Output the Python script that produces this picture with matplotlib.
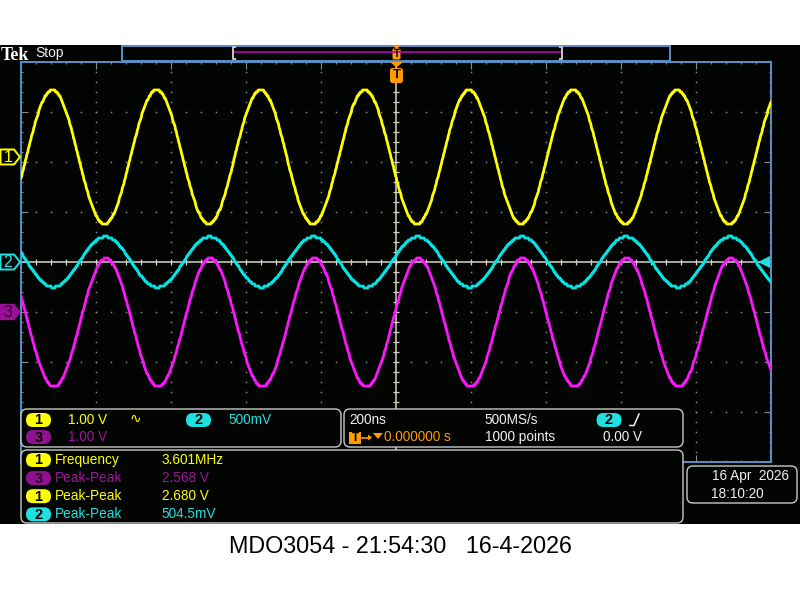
import numpy as np
import matplotlib
matplotlib.use('Agg')
import matplotlib.pyplot as plt
from matplotlib.patches import Rectangle, FancyBboxPatch, Polygon

channels = ['1', '2', '3']
ch_colors = ['#ffff00', '#00e6e6', '#ff14ff']
vpp = [2.680, 0.5045, 2.568]            # measured peak-to-peak, V
volts_per_div = [1.00, 0.50, 1.00]
position_div = [2.1, 0.0, -1.0]          # channel ground marker position
dc_offset = [0.0, 0.0, -0.21]            # V
peak_time_ns = [-83.0, 58.0, 60.0]       # time of a positive peak
frequency_mhz = 3.601
time_per_div_ns = 200
n_points = 1000
trigger_level_v = 0.0

meas_channels = ['1', '3', '1', '2']
meas_labels = ['Frequency', 'Peak-Peak', 'Peak-Peak', 'Peak-Peak']
meas_values = ['3.601MHz', '2.568 V', '2.680 V', '504.5mV']

# ---------------- figure ----------------
W, H = 800, 600
fig = plt.figure(figsize=(8, 6), dpi=100, facecolor='white')
FAM = ['Liberation Sans', 'DejaVu Sans']
YEL, CYA, MAG, PUR, ORA, WHT = '#ffff00', '#1ee0e0', '#ff14ff', '#a412a4', '#ff9a00', '#f0f0f0'
BLUE = '#5b8fc8'
GRAY = '#8a8a8a'
CENTER = '#d4d4c4'

# background axes (pixel coords)
bg = fig.add_axes([0, 0, 1, 1], zorder=0)
bg.set_xlim(0, W); bg.set_ylim(H, 0); bg.axis('off')
bg.add_patch(Rectangle((0, 45), W, 479, facecolor='#020402', edgecolor='none'))

# scope graticule axes
L, T, R, B = 21, 62, 771, 462
ax = fig.add_axes([L / W, 1 - B / H, (R - L) / W, (B - T) / H], zorder=1)
ax.set_facecolor('none')
half = 5 * time_per_div_ns
ax.set_xlim(-half, half)
ax.set_ylim(-4, 4)
for s in ax.spines.values():
    s.set_color(BLUE); s.set_linewidth(1.4)
ax.set_xticks(np.arange(-half, half + 1, time_per_div_ns))
ax.set_xticks(np.arange(-half, half + 1, time_per_div_ns / 5), minor=True)
ax.set_yticks(np.arange(-4, 5, 1))
ax.set_yticks(np.arange(-4, 4.01, 0.2), minor=True)
ax.tick_params(which='both', direction='in', color=GRAY, labelleft=False,
               labelbottom=False, top=True, right=True, width=0.8)
ax.tick_params(which='major', length=5)
ax.tick_params(which='minor', length=1.5)

# dotted grid
xs_major = np.arange(-half + time_per_div_ns, half, time_per_div_ns)
ys_major = np.arange(-3, 4, 1)
ydots = np.arange(-4, 4.001, 0.2)
xdots = np.arange(-half, half + 0.1, time_per_div_ns / 5)
for xm in xs_major:
    if xm != 0:
        ax.plot(np.full_like(ydots, xm), ydots, ls='none', marker='s', ms=1.1,
                mew=0, color=GRAY)
for ym in ys_major:
    if ym != 0:
        ax.plot(xdots, np.full_like(xdots, ym), ls='none', marker='s', ms=1.1,
                mew=0, color=GRAY)
# center cross with ticks
ax.axhline(0, color=CENTER, lw=1.1)
ax.axvline(0, color=CENTER, lw=1.1)
ax.plot(xdots, np.zeros_like(xdots), ls='none', marker='|', ms=4.5, mew=0.9, color=CENTER)
ax.plot(np.zeros_like(ydots), ydots, ls='none', marker='_', ms=4.5, mew=0.9, color=CENTER)

# waveforms
t = np.linspace(-half, half, n_points)
f_per_ns = frequency_mhz * 1e-3
for i in range(3):
    v = dc_offset[i] + vpp[i] / 2 * np.cos(2 * np.pi * f_per_ns * (t - peak_time_ns[i]))
    ydiv = position_div[i] + v / volts_per_div[i]
    ydiv = np.round(ydiv * 25) / 25
    ax.plot(t, ydiv, color=ch_colors[i], lw=2.0, solid_joinstyle='round', zorder=5)

# trigger level marker (right)
trig_y = position_div[1] + trigger_level_v / volts_per_div[1]
px_ns = 2 * half / (R - L)
ax.plot([half - 7 * px_ns], [trig_y], marker='<', ms=8.5, color=CYA, mew=0,
        clip_on=False, zorder=6)

# ---------------- overlay (pixel coords) ----------------
ov = fig.add_axes([0, 0, 1, 1], zorder=3)
ov.set_facecolor('none')
ov.set_xlim(0, W); ov.set_ylim(H, 0); ov.axis('off')


def txt(x, y, s, c=WHT, fs=9.8, **kw):
    kw.setdefault('family', FAM)
    ov.text(x, y, s, color=c, fontsize=fs, va='center', ha=kw.pop('ha', 'left'), **kw)


def panel(x0, y0, x1, y1, r=6):
    ov.add_patch(FancyBboxPatch((x0, y0), x1 - x0, y1 - y0,
                                boxstyle=f'round,pad=0,rounding_size={r}',
                                facecolor='#020402', edgecolor='#c8c8c8', lw=1.0))


def badge(cx, cy, s, fc, tc='black'):
    ov.add_patch(FancyBboxPatch((cx - 12.5, cy - 7), 25, 14,
                                boxstyle='round,pad=0,rounding_size=7',
                                facecolor=fc, edgecolor='none'))
    ov.text(cx, cy + 0.5, s, color=tc, fontsize=10.5, weight='bold', family=FAM,
            ha='center', va='center')


# top status
ov.text(0.5, 59.5, 'Tek', color='white', fontsize=13, weight='bold',
        family=['Liberation Serif', 'DejaVu Serif'], va='baseline', ha='left')
txt(35, 52.5, 'Stop', fs=10)

# record bar
ov.add_patch(Rectangle((122, 45.5), 548, 15, facecolor='none', edgecolor=BLUE, lw=1.4))
ov.plot([233, 561], [52.3, 52.3], color='#c000c0', lw=1.2)
for bx, d in [(232.5, 1), (561.5, -1)]:
    ov.plot([bx + 2 * d, bx, bx, bx + 2 * d], [47, 47, 59, 59], color='#c8c8c8', lw=1.4)
# trigger position markers
ov.add_patch(Polygon([(392.5, 45.5), (400.5, 45.5), (396.5, 49)], closed=True, fc=ORA, ec='none'))
ov.add_patch(FancyBboxPatch((392.5, 48.5), 8, 11, boxstyle='round,pad=0,rounding_size=1.5',
                            fc=ORA, ec='none'))
ov.text(396.5, 54.2, 'T', color='black', fontsize=7, weight='bold', family=FAM,
        ha='center', va='center')
ov.add_patch(Polygon([(390, 62), (403, 62), (396.5, 67.5)], closed=True, fc=ORA, ec='none'))
ov.add_patch(FancyBboxPatch((390, 68), 13, 15, boxstyle='round,pad=0,rounding_size=2.5',
                            fc=ORA, ec='none'))
ov.text(396.5, 75.5, 'T', color='black', fontsize=9.5, weight='bold', family=FAM,
        ha='center', va='center')

# left channel markers
for i, (ch, pos) in enumerate(zip(channels, position_div)):
    cy = 262 - pos * 50
    pts = [(0.5, cy - 7.5), (14, cy - 7.5), (20, cy), (14, cy + 7.5), (0.5, cy + 7.5)]
    if ch == '3':
        ov.add_patch(Polygon(pts, closed=True, fc='#9a0f9a', ec='#9a0f9a', lw=1))
        ov.text(8, cy + 0.5, ch, color='#2a002a', fontsize=11.5, family=FAM,
                ha='center', va='center')
    else:
        col = YEL if ch == '1' else CYA
        ov.add_patch(Polygon(pts, closed=True, fc='#020402', ec=col, lw=1.4))
        ov.text(8, cy + 0.5, ch, color=col, fontsize=11.5, family=FAM,
                ha='center', va='center')

# panels
panel(21, 409, 341, 447)
panel(344, 409, 683, 447)
panel(21, 450, 683, 523)
panel(687, 466, 797, 503)

# channel settings
badge(38.5, 420, '1', YEL)
txt(68, 420, f'{volts_per_div[0]:.2f} V', YEL)
txt(130, 419, '∿', YEL, fs=10, family=['DejaVu Sans'])
badge(198.5, 420, '2', CYA)
txt(228, 420, f'{volts_per_div[1] * 1000:.0f}mV', CYA)
badge(38.5, 437, '3', '#8e128e')
txt(68, 437, f'{volts_per_div[2]:.2f} V', PUR)

# timebase
txt(349, 420, f'{time_per_div_ns}ns')
txt(484.5, 420, '500MS/s')
badge(609, 420, '2', CYA)
ov.plot([630, 634, 639], [425.5, 425.5, 414], color=WHT, lw=1.1)
ov.add_patch(Rectangle((349, 432), 12, 11.5, fc=ORA, ec='none'))
ov.text(355, 437.8, 'T', color='black', fontsize=8.5, weight='bold', family=FAM,
        ha='center', va='center')
ov.plot([362, 370], [437.5, 437.5], color=ORA, lw=1.2)
ov.add_patch(Polygon([(368, 434.5), (372, 437.5), (368, 440.5)], closed=True, fc=ORA, ec='none'))
ov.add_patch(Polygon([(373, 433), (383, 433), (378, 439)], closed=True, fc=ORA, ec='none'))
txt(383.5, 437, '0.000000 s', ORA)
txt(485, 437, f'{n_points} points')
txt(603, 437, f'{trigger_level_v:.2f} V')

# measurements
ch_badge = {'1': (YEL, 'black'), '2': (CYA, 'black'), '3': ('#8e128e', '#2a002a')}
ch_text = {'1': YEL, '2': CYA, '3': PUR}
for k, (ch, lab, val) in enumerate(zip(meas_channels, meas_labels, meas_values)):
    y = 460 + k * 18.1
    badge(38.5, y, ch, *ch_badge[ch])
    txt(55, y, lab, ch_text[ch])
    txt(161.7, y, val, ch_text[ch])

# date
txt(711.5, 476, '16 Apr  2026')
txt(711.5, 494, '18:10:20')

# caption
ov.text(400.5, 546.5, 'MDO3054 - 21:54:30   16-4-2026', color='black', fontsize=16.8,
        family=FAM, ha='center', va='center')

fig.savefig('out.png', dpi=100, facecolor='white')
